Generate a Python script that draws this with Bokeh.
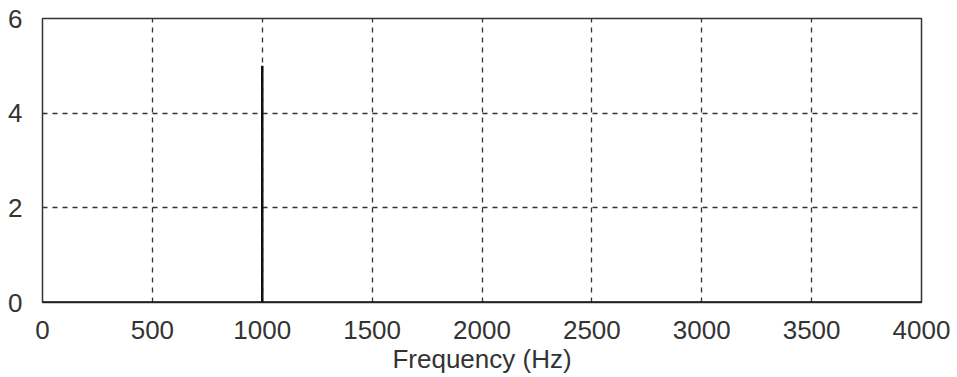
from bokeh.plotting import figure
from bokeh.models import Range1d, FixedTicker
from bokeh.embed import file_html
from bokeh.resources import INLINE

freq = [0, 1000, 1000, 1000, 4000]
magnitude = [0, 0, 5, 0, 0]
x_ticks = [0, 500, 1000, 1500, 2000, 2500, 3000, 3500, 4000]
y_ticks = [0, 2, 4, 6]

p = figure(width=957, height=377, output_backend="svg", toolbar_location=None,
           x_range=Range1d(0, 4000), y_range=Range1d(0, 6),
           min_border_left=42, min_border_right=36, min_border_top=18, min_border_bottom=75)

p.line(freq, magnitude, line_color="#111111", line_width=2.5)

p.outline_line_color = "#333333"
p.outline_line_width = 1.5

for ax in (p.xaxis, p.yaxis):
    ax.axis_line_color = None
    ax.major_tick_line_color = None
    ax.minor_tick_line_color = None
    ax.major_label_text_font = "Liberation Sans"
    ax.major_label_text_font_size = "26px"
    ax.major_label_text_color = "#333333"

p.xaxis.ticker = FixedTicker(ticks=x_ticks)
p.yaxis.ticker = FixedTicker(ticks=y_ticks)
p.xaxis.major_label_standoff = 12
p.yaxis.major_label_standoff = 14
p.xaxis.axis_label = "Frequency (Hz)"
p.xaxis.axis_label_text_font = "Liberation Sans"
p.xaxis.axis_label_text_font_size = "26px"
p.xaxis.axis_label_text_font_style = "normal"
p.xaxis.axis_label_text_color = "#333333"
p.xaxis.axis_label_standoff = 2

for g in (p.xgrid, p.ygrid):
    g.grid_line_color = "#333333"
    g.grid_line_dash = "5 5"
    g.grid_line_width = 1.3
p.background_fill_color = "white"
p.border_fill_color = "white"

open("out.html", "w").write(file_html(p, INLINE))
